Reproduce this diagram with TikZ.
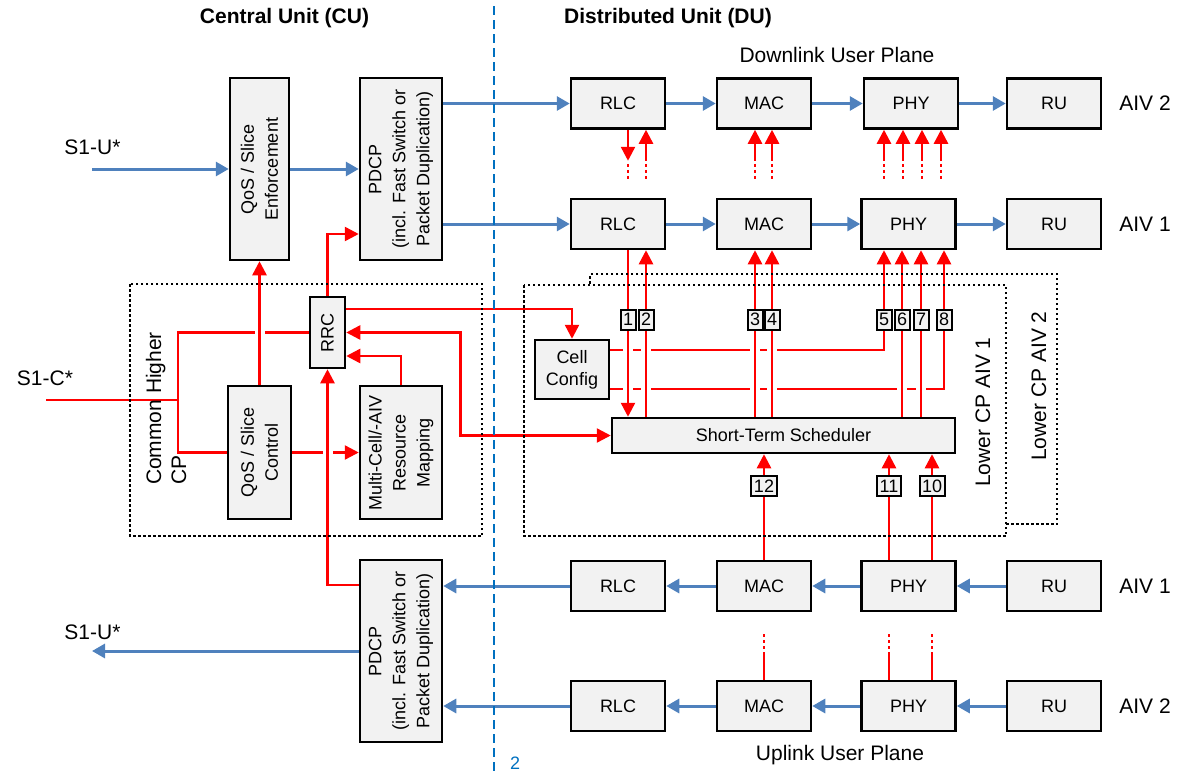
\documentclass[tikz,border=0pt]{standalone}
\usepackage{fontspec}
\setmainfont{Liberation Sans}
\usetikzlibrary{arrows.meta}

\definecolor{upblue}{RGB}{79,129,189}
\definecolor{divblue}{RGB}{0,112,192}
\definecolor{boxgray}{RGB}{242,242,242}
\definecolor{cpred}{RGB}{255,0,0}

\pgfdeclarelayer{wires}
\pgfdeclarelayer{frames}
\pgfsetlayers{wires,frames,main}

\tikzset{
  blk/.style={draw, line width=2.5pt, fill=boxgray, inner sep=0pt, align=center,
              font=\fontsize{18}{22}\selectfont},
  dubox/.style={blk, minimum width=94pt, minimum height=50pt},
  vtxt/.style={rotate=90, align=center, inner sep=0pt, font=\fontsize{18}{24}\selectfont},
  numbox/.style={draw, line width=2pt, fill=boxgray, inner xsep=2.5pt, inner ysep=0pt,
                 minimum height=20pt, font=\fontsize{18}{20}\selectfont},
  lbl/.style={inner sep=0pt, font=\fontsize{21}{25}\selectfont},
  ttl/.style={inner sep=0pt, font=\fontsize{21}{25}\selectfont\bfseries},
  uplane/.style={draw=upblue, line width=3pt, -{Triangle[length=13pt,width=14pt]}},
  cpline/.style={draw=cpred, line width=2.5pt},
  cparrow/.style={cpline, -{Triangle[length=14pt,width=14pt]}},
  cpboth/.style={cpline, {Triangle[length=14pt,width=14pt]}-{Triangle[length=14pt,width=14pt]}},
  halo/.style={preaction={draw=white, line width=10pt, -}},
  cpdots/.style={draw=cpred, line width=2.5pt, dash pattern=on 3pt off 3pt},
  frame/.style={draw=black, line width=2.5pt, dash pattern=on 2.5pt off 2.5pt},
}

\begin{document}
\begin{tikzpicture}[x=1pt,y=-1pt]
\useasboundingbox (0,0) rectangle (1183,771);

% ---------- headings
\node[ttl] (cuTitle) at (284.5,18) {Central Unit (CU)};
\node[ttl] (duTitle) at (668,18) {Distributed Unit (DU)};
\node[lbl] (dlTitle) at (837,55) {Downlink User Plane};
\node[lbl] (ulTitle) at (840,755) {Uplink User Plane};
\node[inner sep=0pt, text=divblue, font=\fontsize{18}{20}\selectfont] (pageNo) at (515,763) {2};

% ---------- central unit
\node[blk, minimum width=59pt, minimum height=182pt] (qosE) at (259.5,169) {};
\node[vtxt] (qosEtxt) at (qosE) {QoS / Slice\\Enforcement};
\node[blk, minimum width=82pt, minimum height=182pt] (pdcpT) at (401,169) {};
\node[vtxt] (pdcpTtxt) at (pdcpT) {PDCP\\(incl. Fast Switch or\\Packet Duplication)};
\node[blk, minimum width=82pt, minimum height=182pt] (pdcpB) at (401,651) {};
\node[vtxt] (pdcpBtxt) at (pdcpB) {PDCP\\(incl. Fast Switch or\\Packet Duplication)};
\node[blk, minimum width=35pt, minimum height=71pt] (rrc) at (327.5,332.5) {};
\node[vtxt] (rrctxt) at (rrc) {RRC};
\node[blk, minimum width=63pt, minimum height=133pt] (qosC) at (259.5,452.5) {};
\node[vtxt] (qosCtxt) at (qosC) {QoS / Slice\\Control};
\node[blk, minimum width=82pt, minimum height=133pt] (mcrm) at (401,452.5) {};
\node[vtxt] (mcrmtxt) at (mcrm) {Multi-Cell/-AIV\\Resource\\Mapping};

\node[lbl] (s1uInL) at (92.5,147) {S1-U*};
\coordinate (s1uIn) at (92,169);
\node[lbl] (s1uOutL) at (92.5,632) {S1-U*};
\coordinate (s1uOut) at (92,651);
\node[lbl] (s1cL) at (45,378) {S1-C*};
\coordinate (s1c) at (46,400);
\coordinate (s1cJ) at (178,400);

\node[lbl, rotate=90, align=left] (chcp) at (166,408.5) {Common Higher\\CP};

% ---------- distributed unit
\node[blk, minimum width=74pt, minimum height=59pt] (cellcfg) at (572,369.5) {Cell\\Config};
\node[blk, minimum width=343pt, minimum height=35pt] (sched) at (783.5,435.5) {Short-Term Scheduler};

\foreach \r/\y in {A/103.5, B/224, C/586, D/706} {
  \node[dubox] (rlc\r) at (618,\y) {RLC};
  \node[dubox] (mac\r) at (764,\y) {MAC};
  \node[dubox] (ru\r) at (1054,\y) {RU};
}
\node[dubox] (phyA) at (911,103.5) {PHY};
\node[dubox] (phyB) at (908.5,224) {PHY};
\node[dubox] (phyC) at (908.5,586) {PHY};
\node[dubox] (phyD) at (908.5,706) {PHY};

\node[lbl] (aivA) at (1145,103.5) {AIV 2};
\node[lbl] (aivB) at (1145,224) {AIV 1};
\node[lbl] (aivC) at (1145,586) {AIV 1};
\node[lbl] (aivD) at (1145,706) {AIV 2};

\node[lbl, rotate=90] (lcp1) at (983,412) {Lower CP AIV 1};
\node[lbl, rotate=90] (lcp2) at (1039,386) {Lower CP AIV 2};

% attachment points of the scheduler links
\coordinate (x1) at ([xshift=10pt]rlcB.south);
\coordinate (x2) at ([xshift=28pt]rlcB.south);
\coordinate (x3) at ([xshift=-9pt]macB.south);
\coordinate (x4) at ([xshift=8pt]macB.south);
\coordinate (x5) at ([xshift=-24.5pt]phyB.south);
\coordinate (x6) at ([xshift=-6.5pt]phyB.south);
\coordinate (x7) at ([xshift=12.5pt]phyB.south);
\coordinate (x8) at ([xshift=35.5pt]phyB.south);
\coordinate (x12) at (macC.north);
\coordinate (x11) at ([xshift=-19.5pt]phyC.north);
\coordinate (x10) at ([xshift=23.5pt]phyC.north);

\node[numbox] (n1) at (x1 |- 0,319.5) {1};
\node[numbox] (n2) at (x2 |- 0,319.5) {2};
\node[numbox] (n3) at (x3 |- 0,319.5) {3};
\node[numbox] (n4) at (x4 |- 0,319.5) {4};
\node[numbox] (n5) at (x5 |- 0,319.5) {5};
\node[numbox] (n6) at (x6 |- 0,319.5) {6};
\node[numbox] (n7) at (x7 |- 0,319.5) {7};
\node[numbox] (n8) at (x8 |- 0,319.5) {8};
\node[numbox] (n12) at (x12 |- 0,486) {12};
\node[numbox] (n11) at (x11 |- 0,486) {11};
\node[numbox] (n10) at (x10 |- 0,486) {10};

% ---------- dotted frames and CU/DU split
\begin{pgfonlayer}{frames}
  \draw[frame] (130,284) rectangle (482,536);
  \draw[frame] (524,285) rectangle (1006,536);
  \draw[frame] (1006,524) -- (1057,524) -- (1057,274) -- (590,274) -- (590,285);
  \draw[divblue, line width=2pt, dash pattern=on 9pt off 5pt] (494,6) -- (494,771);
\end{pgfonlayer}

% ---------- connectors
\begin{pgfonlayer}{wires}
  % user plane
  \draw[uplane] (s1uIn) -- (qosE.west);
  \draw[uplane] (qosE.east) -- (pdcpT.west);
  \foreach \r in {A,B} {
    \draw[uplane] (pdcpT.east |- rlc\r.west) -- (rlc\r.west);
    \draw[uplane] (rlc\r.east) -- (mac\r.west);
    \draw[uplane] (mac\r.east) -- (phy\r.west);
    \draw[uplane] (phy\r.east) -- (ru\r.west);
  }
  \foreach \r in {C,D} {
    \draw[uplane] (ru\r.west) -- (phy\r.east);
    \draw[uplane] (phy\r.west) -- (mac\r.east);
    \draw[uplane] (mac\r.west) -- (rlc\r.east);
    \draw[uplane] (rlc\r.west) -- (pdcpB.east |- rlc\r.west);
  }
  \draw[uplane] (pdcpB.west) -- (s1uOut);

  % control plane: runs that are crossed
  \draw[cpline] (s1c) -- (s1cJ);
  \draw[cpline] (rrc.west) -| (s1cJ) |- (qosC.west);
  \draw[cparrow] (qosC.east) -- (mcrm.west);
  \draw[cparrow] ([yshift=19.5pt]cellcfg.east) -| (x5);
  \draw[cparrow] ([yshift=-19.5pt]cellcfg.east) -| (x8);

  % control plane: crossing links
  \draw[cparrow, halo] (x1) -- (x1 |- sched.north);
  \draw[cparrow, halo] (x2 |- sched.north) -- (x2);
  \draw[cparrow, halo] (x3 |- sched.north) -- (x3);
  \draw[cparrow, halo] (x4 |- sched.north) -- (x4);
  \draw[cparrow, halo] (x6 |- sched.north) -- (x6);
  \draw[cparrow, halo] (x7 |- sched.north) -- (x7);
  \draw[cparrow] (x12) -- (x12 |- sched.south);
  \draw[cparrow] (x11) -- (x11 |- sched.south);
  \draw[cparrow] (x10) -- (x10 |- sched.south);
  \draw[cparrow, halo] (qosC.north) -- (qosE.south);
  \draw[cparrow, halo] ([yshift=66pt]pdcpB.west) -| (rrc.south);

  % control plane: remaining links
  \draw[cparrow] (rrc.north) |- ([yshift=-65pt]pdcpT.west);
  \draw[cparrow] ([yshift=23.5pt]rrc.east) -| (cellcfg.north);
  \draw[cpboth] (rrc.east) -- ++(114,0) |- (sched.west);
  \draw[cparrow] (mcrm.north) |- ([yshift=-23.5pt]rrc.east);

  % links towards the second downlink AIV
  \draw[cparrow] ([xshift=10pt]rlcA.south) -- ++(0,31);
  \draw[cpdots] ([xshift=10pt]rlcA.south) ++(0,34) -- ++(0,16);
  \foreach \b/\dx in {rlcA/28, macA/-9, macA/8, phyA/-27, phyA/-8, phyA/11, phyA/30} {
    \draw[cparrow] ([xshift=\dx pt]\b.south) ++(0,31) -- ([xshift=\dx pt]\b.south);
    \draw[cpdots] ([xshift=\dx pt]\b.south) ++(0,34) -- ++(0,16);
  }
  % links from the second uplink AIV
  \foreach \b/\dx in {macD/0, phyD/-19.5, phyD/23.5} {
    \draw[cpline, line width=2pt] ([xshift=\dx pt]\b.north) -- ++(0,-28);
    \draw[cpdots, line width=2pt] ([xshift=\dx pt]\b.north) ++(0,-31) -- ++(0,-18);
  }
\end{pgfonlayer}
\end{tikzpicture}
\end{document}
